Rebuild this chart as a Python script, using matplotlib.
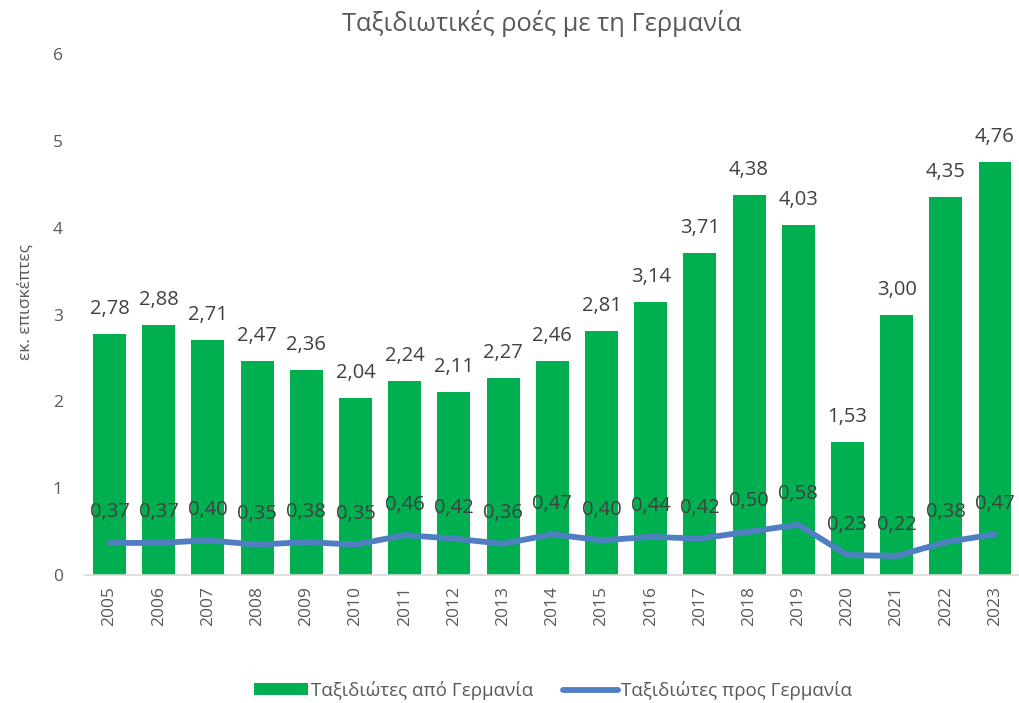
import matplotlib
matplotlib.use("Agg")
import matplotlib.pyplot as plt
import numpy as np
from matplotlib.patches import Patch
from matplotlib.lines import Line2D

plt.rcParams['font.family'] = ['Open Sans', 'DejaVu Sans']

years = ['2005', '2006', '2007', '2008', '2009', '2010', '2011', '2012', '2013', '2014',
         '2015', '2016', '2017', '2018', '2019', '2020', '2021', '2022', '2023']
from_germany = [2.78, 2.88, 2.71, 2.47, 2.36, 2.04, 2.24, 2.11, 2.27, 2.46,
                2.81, 3.14, 3.71, 4.38, 4.03, 1.53, 3.00, 4.35, 4.76]
to_germany = [0.37, 0.37, 0.40, 0.35, 0.38, 0.35, 0.46, 0.42, 0.36, 0.47,
              0.40, 0.44, 0.42, 0.50, 0.58, 0.23, 0.22, 0.38, 0.47]
yticks = [0, 1, 2, 3, 4, 5, 6]

title = 'Ταξιδιωτικές ροές με τη Γερμανία'
ylabel = 'εκ. επισκέπτες'
label_bar = 'Ταξιδιώτες από Γερμανία'
label_line = 'Ταξιδιώτες προς Γερμανία'

GREEN = '#00B050'
BLUE = '#4F7FC0'
TXT = '#595959'
LBL = '#404040'

fig = plt.figure(figsize=(10.2, 7.03), dpi=100)
ax = fig.add_axes([0.0833, 0.182, 0.9163, 0.741])

x = np.arange(len(years))
ax.bar(x, from_germany, width=0.67, color=GREEN, zorder=2)
ax.plot(x, to_germany, color=BLUE, lw=4.2, solid_capstyle='round', zorder=3)

def fmt(v):
    return f'{v:.2f}'.replace('.', ',')

for xi, v in zip(x, from_germany):
    ax.annotate(fmt(v), (xi, v), xytext=(0, 18), textcoords='offset points',
                ha='center', va='center', fontsize=14.5, color=LBL, zorder=4)
for xi, v in zip(x, to_germany):
    ax.annotate(fmt(v), (xi, v), xytext=(0, 22), textcoords='offset points',
                ha='center', va='center', fontsize=14.5, color=LBL, zorder=4)

ax.set_xlim(-0.5, len(years) - 0.5)
ax.set_ylim(0, 6)
ax.set_yticks(yticks)
ax.set_yticklabels([str(t) for t in yticks], fontsize=12.5, color=TXT)
ax.set_xticks(x)
ax.set_xticklabels(years, rotation=90, fontsize=12.5, color=TXT)
ax.tick_params(axis='both', length=0)
ax.tick_params(axis='y', pad=16)
ax.tick_params(axis='x', pad=8)
for s in ['top', 'right', 'left']:
    ax.spines[s].set_visible(False)
ax.spines['bottom'].set_color('#D9D9D9')
ax.spines['bottom'].set_linewidth(1.2)
ax.spines['bottom'].set_zorder(5)

fig.text(0.025, 0.570, ylabel, rotation=90, ha='center', va='center', fontsize=12.5, color=TXT)
fig.text(0.531, 0.967, title, ha='center', va='center', fontsize=18.4, color=TXT)

handles = [Patch(facecolor=GREEN, label=label_bar),
           Line2D([0], [0], color=BLUE, lw=4.2, solid_capstyle='round', label=label_line)]
fig.legend(handles=handles, loc='center', bbox_to_anchor=(0.542, 0.018), ncol=2, frameon=False,
           fontsize=13.5, labelcolor=TXT, handlelength=2.9, handletextpad=0.15, columnspacing=1.6,
           handleheight=0.6)

fig.savefig('out.png', dpi=100)
